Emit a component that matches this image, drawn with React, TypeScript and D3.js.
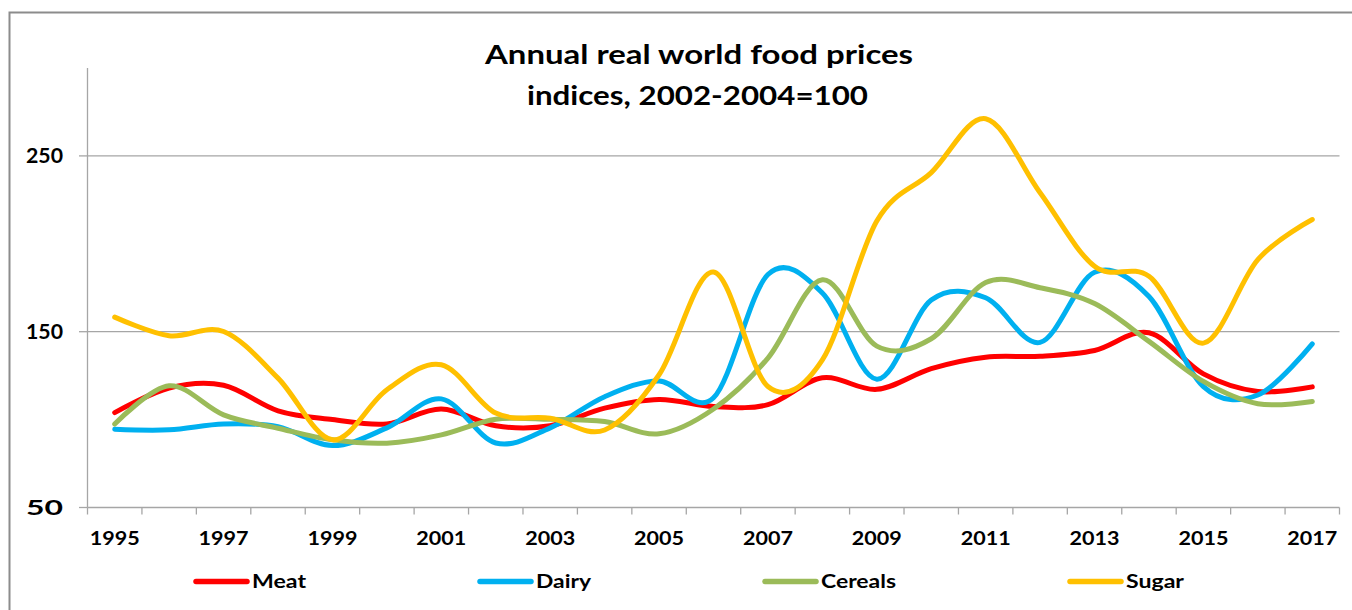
import React from "react";
import * as d3 from "d3";

const years = ["1995","1996","1997","1998","1999","2000","2001","2002","2003","2004","2005","2006","2007","2008","2009","2010","2011","2012","2013","2014","2015","2016","2017"];
const meat = [104, 118, 119.5, 105, 100, 97.5, 106, 96.5, 96.5, 106.5, 111.5, 107.5, 108.5, 123.8, 117.2, 129, 135.5, 136, 139.3, 149.4, 126, 116, 118.6];
const dairy = [94.5, 94.2, 97.5, 96, 85.2, 95.3, 111.8, 86.7, 95.3, 113, 122, 112.4, 182.5, 172, 123, 168, 169.3, 143.9, 183.8, 170, 118.8, 114, 143.1];
const cereals = [97.5, 119.2, 102.7, 95.1, 88.5, 86.6, 91.3, 100.2, 100.2, 98.9, 91.9, 106, 135, 179.5, 141.8, 146, 178, 175, 166, 144.5, 121.7, 109, 110.3];
const sugar = [158.3, 147.7, 150.1, 123.6, 88.5, 117, 131.2, 103.7, 100.8, 94.1, 125.5, 184, 118.8, 134, 213, 240.5, 271.1, 229, 187.2, 181.5, 143.5, 191, 213.8];
const yTicks = [50, 150, 250];
const xLabels = ["1995","1997","1999","2001","2003","2005","2007","2009","2011","2013","2015","2017"];

const seriesNames = ["Meat", "Dairy", "Cereals", "Sugar"];
const seriesValues = [meat, dairy, cereals, sugar];
const colors = ["#FF0000", "#00B0F0", "#9BBB59", "#FFC000"];
const legendX = [196, 480, 765, 1070];
const legendTextW = [54, 55, 75, 58];

const FONT = "Lato, 'Open Sans', sans-serif";

export default function App() {
  const left = 87.5, right = 1339.5, top = 68, bottom = 507.5;
  const x = d3.scaleBand<string>().domain(years).range([left, right]).paddingInner(0).paddingOuter(0);
  const y = d3.scaleLinear().domain([50, 300]).range([bottom, top]);
  const line = d3
    .line<number>()
    .x((_, i) => (x(years[i]) as number) + x.bandwidth() / 2)
    .y((d) => y(d))
    .curve(d3.curveCardinal.tension(0));

  const tickXs = years.map((yr) => x(yr) as number).concat([right]);

  return (
    <svg
      width={1352}
      height={610}
      style={{ position: "absolute", left: 0, top: 0, background: "#fff" }}
    >
      <rect x={0} y={0} width={1352} height={610} fill="#fff" />
      <rect x={9.5} y={12.5} width={1400} height={700} fill="none" stroke="#8c8c8c" strokeWidth={2} />

      <text x={699} y={64} textAnchor="middle" fontFamily={FONT} fontWeight="bold" fontSize={26.5} textLength={428} lengthAdjust="spacingAndGlyphs" fill="#000">
        Annual real world food prices
      </text>
      <text x={697.5} y={105} textAnchor="middle" fontFamily={FONT} fontWeight="bold" fontSize={26.5} textLength={341} lengthAdjust="spacingAndGlyphs" fill="#000">
        indices, 2002-2004=100
      </text>

      {yTicks.map((t) => (
        <g key={t}>
          {t !== 50 && <line x1={left} x2={right} y1={y(t)} y2={y(t)} stroke="#a6a6a6" strokeWidth={1.3} />}
          <line x1={79} x2={left} y1={y(t)} y2={y(t)} stroke="#a6a6a6" strokeWidth={1.3} />
          <text x={63} y={y(t) + 7} textAnchor="end" fontFamily={FONT} fontWeight="bold" fontSize={20.5} textLength={37} lengthAdjust="spacingAndGlyphs" fill="#000">
            {t}
          </text>
        </g>
      ))}

      <line x1={left} x2={left} y1={top} y2={bottom} stroke="#a6a6a6" strokeWidth={1.3} />
      <line x1={left} x2={right} y1={bottom} y2={bottom} stroke="#a6a6a6" strokeWidth={1.3} />
      {tickXs.map((tx, i) => (
        <line key={i} x1={tx} x2={tx} y1={bottom} y2={bottom + 7} stroke="#a6a6a6" strokeWidth={1.3} />
      ))}
      {xLabels.map((lab) => (
        <text key={lab} x={(x(lab) as number) + x.bandwidth() / 2} y={545} textAnchor="middle" fontFamily={FONT} fontWeight="bold" fontSize={19.5} textLength={50} lengthAdjust="spacingAndGlyphs" fill="#000">
          {lab}
        </text>
      ))}

      {seriesValues.map((vals, si) => (
        <path key={seriesNames[si]} d={line(vals) || ""} fill="none" stroke={colors[si]} strokeWidth={5} strokeLinecap="round" strokeLinejoin="round" />
      ))}

      {seriesNames.map((name, si) => (
        <g key={name}>
          <line x1={legendX[si]} x2={legendX[si] + 51} y1={581.5} y2={581.5} stroke={colors[si]} strokeWidth={5.5} strokeLinecap="round" />
          <text x={legendX[si] + 56} y={588} fontFamily={FONT} fontWeight="bold" fontSize={18.5} textLength={legendTextW[si]} lengthAdjust="spacingAndGlyphs" fill="#000">
            {name}
          </text>
        </g>
      ))}
    </svg>
  );
}
